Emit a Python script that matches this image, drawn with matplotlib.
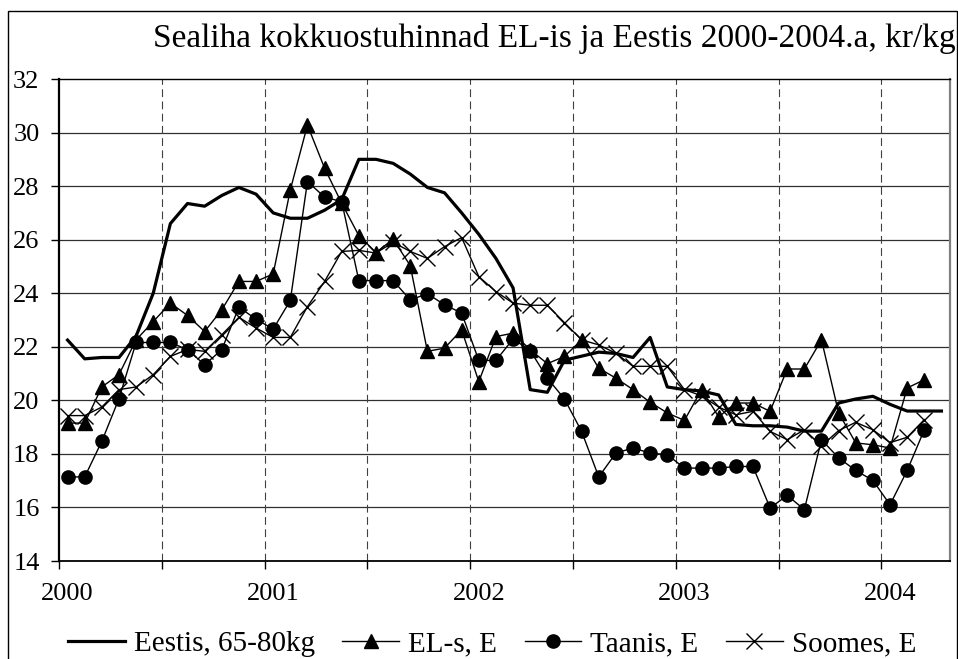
import numpy as np
import matplotlib
matplotlib.use("Agg")
from matplotlib import pyplot as plt
from matplotlib.patches import Rectangle

plt.rcParams['font.family'] = ['Liberation Serif', 'DejaVu Serif']

# monthly prices, Jan 2000 ...
eestis = [22.25, 21.55, 21.6, 21.6, 22.4, 24.0, 26.6, 27.35, 27.25, 27.65, 27.95, 27.7,
          27.0, 26.8, 26.8, 27.1, 27.5, 29.0, 29.0, 28.85, 28.45, 27.95, 27.75, 27.0,
          26.2, 25.3, 24.2, 20.4, 20.3, 21.5, 21.65, 21.8, 21.75, 21.6, 22.35, 20.5,
          20.4, 20.35, 20.2, 19.1, 19.05, 19.05, 19.0, 18.85, 18.85, 19.9, 20.05, 20.15,
          19.85, 19.6, 19.6, 19.6]
els = [19.15, 19.15, 20.5, 20.96, 22.26, 22.94, 23.63, 23.17, 22.57, 23.38, 24.44, 24.44,
       24.72, 27.86, 30.28, 28.67, 27.36, 26.15, 25.52, 26.02, 25.03, 21.83, 21.95, 22.63,
       20.7, 22.38, 22.51, 21.89, 21.37, 21.64, 22.26, 21.2, 20.83, 20.4, 19.93, 19.53,
       19.25, 20.4, 19.38, 19.9, 19.9, 19.59, 21.17, 21.17, 22.26, 19.53, 18.41, 18.34,
       18.22, 20.46, 20.77]
taanis = [17.14, 17.14, 18.47, 20.06, 22.16, 22.16, 22.16, 21.89, 21.33, 21.89, 23.48, 23.03,
          22.66, 23.73, 28.17, 27.59, 27.42, 24.47, 24.47, 24.47, 23.75, 23.98, 23.57, 23.26,
          21.49, 21.49, 22.29, 21.86, 20.83, 20.05, 18.84, 17.14, 18.03, 18.22, 18.03, 17.97,
          17.47, 17.47, 17.47, 17.53, 17.53, 15.98, 16.45, 15.92, 18.53, 17.85, 17.38, 17.01,
          16.1, 17.38, 18.9]
soomes = [19.43, 19.43, 19.75, 20.4, 20.5, 20.96, 21.64, 21.9, 21.83, 22.45, 23.1, 22.7,
          22.35, 22.35, 23.5, 24.44, 25.56, 25.6, 25.5, 25.9, 25.56, 25.3, 25.74, 26.08,
          24.62, 24.06, 23.63, 23.55, 23.55, 22.9, 22.26, 22.07, 21.76, 21.27, 21.27, 21.27,
          20.4, 20.17, 19.75, 19.46, 19.59, 18.84, 18.53, 18.9, 18.3, 18.87, 19.18, 18.9,
          18.42, 18.62, 19.28]
years = ['2000', '2001', '2002', '2003', '2004']
title = "Sealiha kokkuostuhinnad EL-is ja Eestis 2000-2004.a, kr/kg"

fig = plt.figure(figsize=(9.58, 6.59), dpi=100)
fig.patches.append(Rectangle((8/958, -0.1), 949/958, 1.1 - 11/659, transform=fig.transFigure,
                             fill=False, edgecolor='black', linewidth=1.0))
ax = fig.add_axes([59/958, 98/659, 891/958, 482/659])

# months plotted at the middle of each month slot
def xs(series):
    return np.arange(len(series)) + 0.5

ax.plot(xs(eestis), eestis, color='black', linewidth=2.3, label='Eestis, 65-80kg', zorder=5)
ax.plot(xs(els), els, color='black', linewidth=1.0, marker='^', markersize=9.5, label='EL-s, E', zorder=4)
ax.plot(xs(taanis), taanis, color='black', linewidth=1.0, marker='o', markersize=9.5, label='Taanis, E', zorder=4)
ax.plot(xs(soomes), soomes, color='black', linewidth=1.0, marker='x', markersize=11,
        markeredgewidth=1.0, label='Soomes, E', zorder=4)

ax.set_xlim(0, 52)
ax.set_ylim(14, 32)
ax.set_yticks(np.arange(14, 33, 2))
ax.set_xticks(np.arange(0, 49, 6))
ax.set_xticklabels([])
ax.set_xticks(np.arange(len(years)) * 12 + 0.5, minor=True)
ax.set_xticklabels(years, minor=True)
ax.tick_params(axis='x', which='major', direction='out', length=6, width=1.0)
ax.tick_params(axis='x', which='minor', length=0, pad=16, labelsize=19)
ax.tick_params(axis='y', direction='out', length=6, width=1.0, pad=8, labelsize=19)

for v in range(16, 32, 2):
    ax.axhline(v, color='#303030', linewidth=0.9, zorder=1)
for m in range(6, 49, 6):
    ax.axvline(m, color='#404040', linewidth=0.8, linestyle=(0, (7, 4)), zorder=1)

for side in ['left', 'bottom', 'top']:
    ax.spines[side].set_color('black')
ax.spines['left'].set_linewidth(1.6)
ax.spines['bottom'].set_linewidth(1.3)
ax.spines['top'].set_linewidth(1.0)
ax.spines['right'].set_color('#808080')
ax.spines['right'].set_linewidth(1.6)

fig.text(956/958, 1 - 38/659, title, ha='right', va='center', fontsize=24)

fig.legend(loc='center', bbox_to_anchor=(492/958, 1 - 644/659), ncol=4, frameon=False,
           fontsize=21, handlelength=1.95, handletextpad=0.3, columnspacing=0.95, borderpad=0)

fig.savefig('out.png', dpi=100)
